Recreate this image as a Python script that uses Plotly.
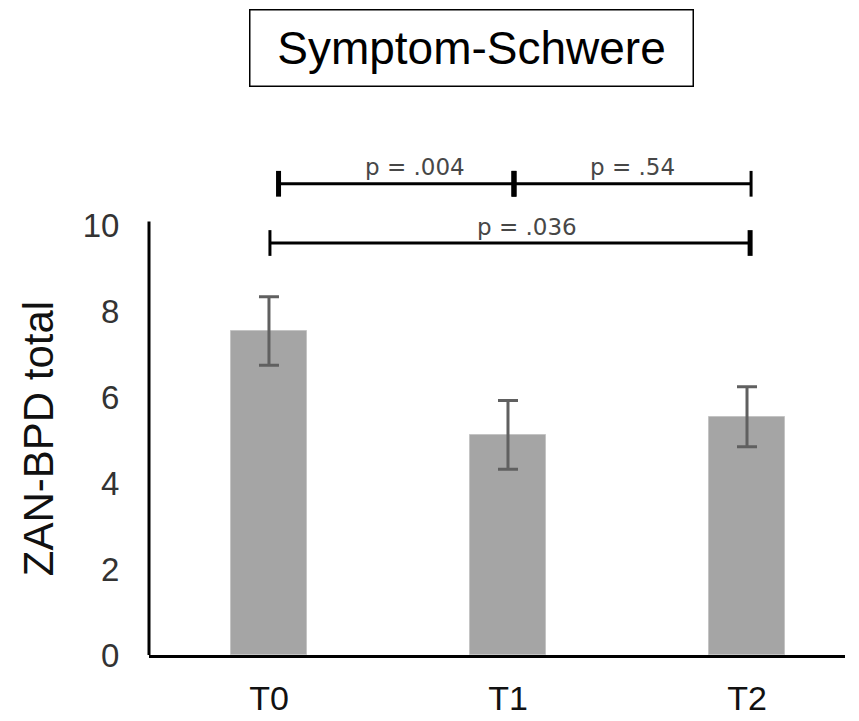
import plotly.graph_objects as go

# Data
categories = ["T0", "T1", "T2"]
means = [7.55, 5.13, 5.55]
errors = [0.80, 0.80, 0.70]
y_ticks = [0, 2, 4, 6, 8, 10]

# Significance brackets: start/end positions (category units), level and label placement
bracket_x0 = [0.04, 1.025, 0.004]
bracket_x1 = [1.025, 2.017, 2.013]
bracket_y = [10.98, 10.98, 9.60]
p_labels = ["p = .004", "p = .54", "p = .036"]
p_label_x = [0.61, 1.52, 1.08]
p_label_y = [11.36, 11.36, 9.98]

FONT = "Liberation Sans, Arial, sans-serif"
x_pos = list(range(len(categories)))
x_range = [-0.502, 2.41]
y_range = [0, 12]
y_axis_top = 10.1

# end-tick stroke widths for each bracket (start, end)
end_tick_widths = [(5, 5), (5, 3), (3, 5)]

fig = go.Figure()
fig.add_trace(go.Bar(
    x=x_pos,
    y=means,
    width=0.32,
    marker=dict(color="#a5a5a5", line=dict(color="#c4c4c4", width=1)),
    error_y=dict(type="data", array=errors, visible=True,
                 color="#606060", thickness=3, width=10),
    showlegend=False,
))

shapes = []
# left axis line (only up to the top of the value scale)
shapes.append(dict(type="line", xref="paper", yref="y", x0=0, x1=0,
                   y0=0, y1=y_axis_top, line=dict(color="black", width=3)))

tick_half = 0.3
for (x0, x1, yb), (w0, w1) in zip(zip(bracket_x0, bracket_x1, bracket_y), end_tick_widths):
    shapes.append(dict(type="line", xref="x", yref="y", x0=x0, x1=x1,
                       y0=yb, y1=yb, line=dict(color="black", width=3)))
    for xe, w in ((x0, w0), (x1, w1)):
        shapes.append(dict(type="line", xref="x", yref="y", x0=xe, x1=xe,
                           y0=yb - tick_half, y1=yb + tick_half,
                           line=dict(color="black", width=w)))

annotations = []
for txt, tx, ty in zip(p_labels, p_label_x, p_label_y):
    annotations.append(dict(text=txt, x=tx, y=ty, xref="x", yref="y",
                            showarrow=False, xanchor="center", yanchor="middle",
                            font=dict(family="DejaVu Sans, sans-serif", size=23,
                                      color="#474747")))

# y-axis title, centred on the value scale
annotations.append(dict(
    text="ZAN-BPD total", xref="paper", yref="y",
    x=(38 - 149) / 696, y=y_axis_top / 2, textangle=-90,
    xanchor="center", yanchor="middle", showarrow=False,
    font=dict(family=FONT, size=42, color="#111111"),
))

# boxed title
annotations.append(dict(
    text="Symptom-Schwere", xref="paper", yref="paper",
    x=(471.5 - 149) / 696, y=(655 - 48) / 515,
    xanchor="center", yanchor="middle", showarrow=False,
    font=dict(family=FONT, size=46, color="black"),
    bordercolor="black", borderwidth=1.5, borderpad=0,
    width=442, height=75, bgcolor="white",
))

fig.update_layout(
    width=859, height=721,
    margin=dict(l=149, r=14, t=140, b=66),
    paper_bgcolor="white", plot_bgcolor="white",
    font=dict(family=FONT, color="#222222"),
    shapes=shapes,
    annotations=annotations,
    bargap=0,
)
fig.update_xaxes(
    range=x_range, tickvals=x_pos, ticktext=categories,
    showline=True, linecolor="black", linewidth=3,
    showgrid=False, zeroline=False, automargin=False,
    ticks="outside", ticklen=11, tickcolor="rgba(0,0,0,0)",
    tickfont=dict(family=FONT, size=34, color="#111111"),
)
fig.update_yaxes(
    range=y_range, tickvals=y_ticks,
    showline=False, showgrid=False, zeroline=False, automargin=False,
    ticks="outside", ticklen=22, tickcolor="rgba(0,0,0,0)",
    tickfont=dict(family=FONT, size=33, color="#333333"),
)

fig.write_html("out.html")
